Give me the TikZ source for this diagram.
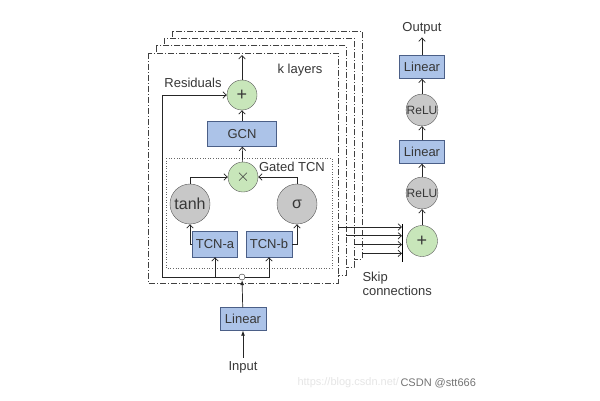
\documentclass[tikz,border=0pt]{standalone}
\usepackage{fontspec}
\setmainfont{Liberation Sans}
\usetikzlibrary{arrows.meta}

\definecolor{boxblue}{RGB}{172,195,232}
\definecolor{boxedge}{RGB}{75,95,135}
\definecolor{opgreen}{RGB}{200,230,186}
\definecolor{opgray}{RGB}{200,200,200}
\definecolor{inkgray}{RGB}{55,55,55}

\begin{document}
\begin{tikzpicture}[x=1pt,y=-1pt,
    font=\fontsize{13}{15}\selectfont, text=inkgray,
    layer/.style={draw=black!75, dash pattern=on 6pt off 2pt on 1pt off 2pt, fill=white, line width=0.6pt},
    blk/.style={draw=boxedge, fill=boxblue, minimum width=#1, minimum height=24pt, inner sep=0pt},
    blk/.default=45pt,
    op/.style={circle, draw=black!65, fill=opgreen, minimum size=30pt, inner sep=0pt, font=\fontsize{18}{18}\selectfont},
    act/.style={circle, draw=black!65, fill=opgray, minimum size=#1, inner sep=0pt},
    act/.default=30pt,
    flow/.style={-{Straight Barb[length=3.5pt,width=6.5pt]}, draw=black!85, line width=0.7pt},
    feed/.style={-{Latex[length=5pt,width=4pt]}, draw=black!85, line width=0.7pt}]

      \useasboundingbox (0,0) rectangle (600,400);

      \foreach \k in {3,2,1,0}{
        \draw[layer] ({148+8.2*\k},{53-7.3*\k}) rectangle ({338+8*\k},{283-8*\k});
        \coordinate (skip\k) at ({338+8*\k},{227+8.8*\k});
      }

      \draw[dotted, draw=black!60, line width=0.6pt] (166,158) rectangle (332,268);

      \node[op] (plusA) at (242,95) {+};
      \node[blk=69pt, minimum height=25pt] (gcn) at (242,134) {GCN};
      \node[op] (times) at (243,177) {$\times$};
      \node[act=40pt, font=\fontsize{16}{18}\selectfont] (tanh) at (190,204) {tanh};
      \node[act=40pt, font=\fontsize{16}{18}\selectfont] (sigma) at (297,204) {σ};
      \node[blk, minimum height=26pt] (tcna) at (215,244) {TCN-a};
      \node[blk=46pt, minimum height=26pt] (tcnb) at (269,244) {TCN-b};
      \node[circle, draw=black!85, fill=white, minimum size=6pt, inner sep=0pt] (junc) at (242,277) {};
      \node[blk=46pt, minimum height=23pt] (linA) at (243,319) {Linear};
      \node (input) at (243,367) {Input};

      \coordinate (resid) at (162,277);
      \coordinate (top) at (242,55);

      \node (residuals) at (193,83) {Residuals};
      \node (klayers) at (300,70) {k layers};
      \node (gated) at (292,167) {Gated TCN};

      \node[op, minimum size=31pt] (plusB) at (422,241) {+};
      \node[act, font=\fontsize{12}{14}\selectfont] (reluA) at (422,193) {ReLU};
      \node[blk, minimum height=23pt] (linB) at (422,152) {Linear};
      \node[act, font=\fontsize{12}{14}\selectfont] (reluB) at (422,110) {ReLU};
      \node[blk, minimum height=23pt] (linC) at (422,67) {Linear};
      \node (output) at (422,28) {Output};
      \node[anchor=west, align=left, font=\fontsize{13}{14.5}\selectfont] (skiptext) at (359,284) {Skip\\connections};

      \coordinate (bartop) at (402,224);
      \coordinate (barbot) at (402,262);
      \draw[line width=0.8pt] (bartop) -- (barbot);
      \foreach \k in {0,1,2,3}
        \draw[flow] (skip\k) -- (skip\k -| bartop);

      \draw[flow] (junc.west) -- (resid) |- (plusA.west);
      \draw[flow] (tcna.south |- junc) -- (tcna.south);
      \draw[flow] (junc.east) -| (tcnb.south);
      \draw[flow] (tcna.west) -| (tanh.south);
      \draw[flow] (tcnb.east) -| (sigma.south);
      \draw[flow] (tanh.north) |- (times.west);
      \draw[flow] (sigma.north) |- (times.east);
      \draw[flow] (times) -- (gcn);
      \draw[flow] (gcn) -- (plusA);
      \draw[flow] (plusA) -- (top);

      \draw[feed] (linA) -- (junc);
      \draw[feed] (input) -- (linA);

      \draw[flow] (plusB) -- (reluA);
      \draw[flow] (reluA) -- (linB);
      \draw[flow] (linB) -- (reluB);
      \draw[flow] (reluB) -- (linC);
      \draw[flow] (linC) -- (output);

      \node[anchor=west, text=black!10, font=\fontsize{11}{12}\selectfont] (url) at (294,383) {https://blog.csdn.net/};
      \node[anchor=west, text=black!55, font=\fontsize{11}{12}\selectfont] (mark) at (397,383) {CSDN @stt666};

\end{tikzpicture}
\end{document}
